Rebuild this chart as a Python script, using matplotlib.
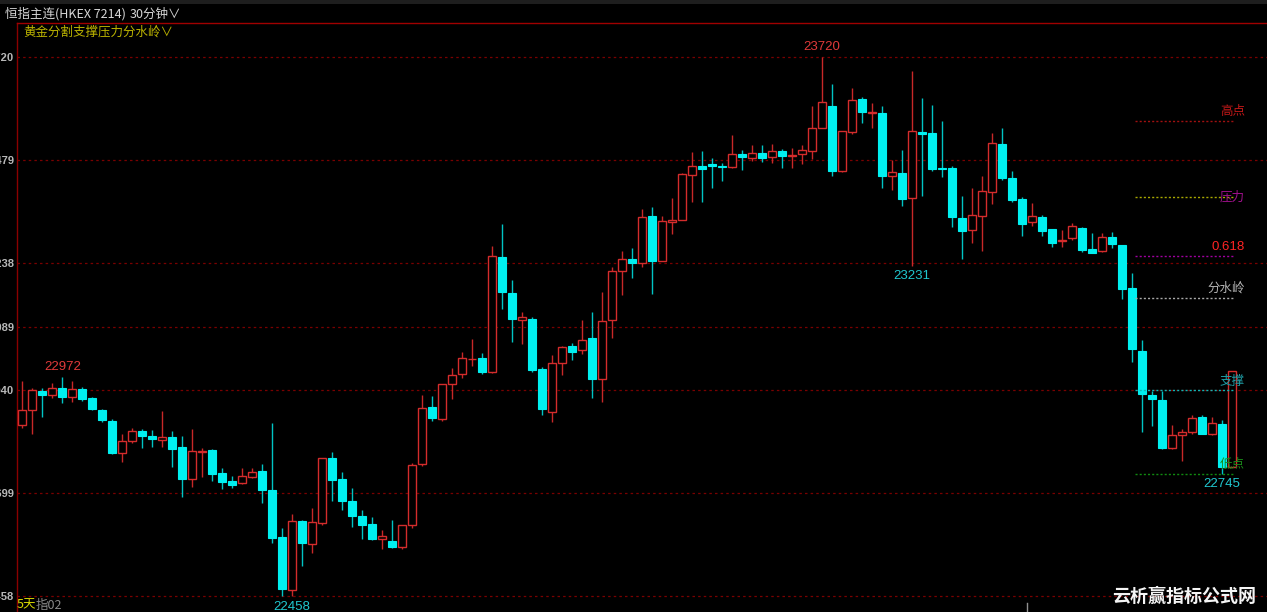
import matplotlib
matplotlib.use("Agg")
import matplotlib.pyplot as plt
import matplotlib.transforms as mtransforms
import numpy as np

plt.rcParams['font.family'] = ['Noto Sans CJK SC', 'DejaVu Sans']

# ---- data (30-minute candles, HSI futures) ----
opens = [22860, 22894, 22938, 22928, 22945, 22925, 22944, 22922, 22894, 22868,
         22794, 22821, 22844, 22833, 22825, 22830, 22807, 22732, 22796, 22800,
         22746, 22729, 22724, 22737, 22751, 22708, 22596, 22474, 22634, 22580,
         22629, 22781, 22733, 22680, 22645, 22627, 22593, 22588, 22573, 22626,
         22767, 22902, 22872, 22955, 22978, 23013, 23016, 22984, 23253, 23168,
         23104, 23108, 22989, 22889, 23005, 23044, 23034, 23062, 22966, 23104,
         23219, 23247, 23237, 23349, 23243, 23335, 23338, 23445, 23464, 23469,
         23466, 23463, 23493, 23483, 23495, 23485, 23501, 23488, 23493, 23499,
         23555, 23606, 23454, 23544, 23622, 23588, 23590, 23442, 23448, 23390,
         23545, 23542, 23461, 23460, 23343, 23315, 23348, 23403, 23517, 23436,
         23387, 23335, 23346, 23317, 23289, 23296, 23319, 23270, 23265, 23300,
         23280, 23179, 23032, 22928, 22917, 22804, 22835, 22843, 22878, 22837,
         22862, 22761]
highs = [22962, 22945, 22945, 22958, 22972, 22962, 22947, 22924, 22896, 22874,
         22838, 22851, 22849, 22847, 22892, 22845, 22833, 22849, 22804, 22802,
         22758, 22740, 22758, 22758, 22767, 22863, 22617, 22650, 22637, 22664,
         22782, 22796, 22750, 22711, 22659, 22644, 22613, 22636, 22626, 22771,
         22929, 22927, 22956, 22992, 23029, 23060, 23027, 23278, 23329, 23198,
         23123, 23111, 22994, 23023, 23044, 23052, 23105, 23123, 23170, 23229,
         23266, 23274, 23364, 23368, 23349, 23390, 23448, 23498, 23500, 23484,
         23472, 23537, 23502, 23514, 23514, 23517, 23504, 23506, 23513, 23605,
         23720, 23658, 23548, 23648, 23626, 23613, 23605, 23479, 23502, 23687,
         23623, 23608, 23570, 23465, 23394, 23414, 23442, 23543, 23553, 23453,
         23393, 23379, 23350, 23317, 23315, 23332, 23322, 23309, 23308, 23310,
         23280, 23214, 23058, 22939, 22938, 22860, 22849, 22882, 22882, 22878,
         22871, 22985]
lows = [22853, 22839, 22878, 22921, 22911, 22912, 22916, 22894, 22867, 22792,
        22772, 22817, 22806, 22808, 22808, 22760, 22690, 22714, 22738, 22729,
        22710, 22711, 22722, 22734, 22677, 22583, 22460, 22458, 22530, 22559,
        22624, 22682, 22659, 22620, 22593, 22589, 22568, 22572, 22569, 22619,
        22764, 22869, 22868, 22920, 22970, 22998, 22979, 22981, 23130, 23054,
        23048, 22984, 22882, 22865, 22977, 23010, 23026, 22923, 22913, 23062,
        23163, 23202, 23229, 23165, 23243, 23305, 23338, 23380, 23380, 23414,
        23431, 23461, 23456, 23477, 23475, 23472, 23460, 23460, 23470, 23481,
        23555, 23442, 23450, 23540, 23565, 23555, 23414, 23410, 23372, 23231,
        23395, 23454, 23440, 23323, 23247, 23285, 23266, 23376, 23432, 23381,
        23302, 23325, 23302, 23276, 23276, 23293, 23263, 23262, 23263, 23272,
        23154, 23006, 22843, 22857, 22803, 22803, 22775, 22839, 22838, 22836,
        22745, 22761]
closes = [22894, 22940, 22928, 22945, 22925, 22944, 22919, 22896, 22871, 22793,
          22821, 22846, 22833, 22827, 22832, 22803, 22733, 22797, 22799, 22744,
          22726, 22719, 22740, 22750, 22708, 22594, 22476, 22635, 22582, 22631,
          22781, 22730, 22680, 22645, 22626, 22592, 22599, 22573, 22626, 22765,
          22898, 22875, 22955, 22975, 23016, 23014, 22984, 23254, 23170, 23108,
          23111, 22987, 22897, 23003, 23041, 23030, 23059, 22967, 23103, 23219,
          23247, 23237, 23345, 23243, 23336, 23338, 23446, 23465, 23459, 23465,
          23463, 23493, 23485, 23495, 23483, 23499, 23488, 23491, 23502, 23553,
          23614, 23454, 23548, 23619, 23591, 23591, 23442, 23452, 23388, 23548,
          23541, 23459, 23458, 23346, 23314, 23350, 23406, 23518, 23436, 23386,
          23329, 23347, 23314, 23284, 23293, 23325, 23268, 23262, 23300, 23282,
          23177, 23036, 22931, 22919, 22806, 22835, 22842, 22875, 22839, 22863,
          22761, 22985]

y_ticks = [23720, 23479, 23238, 23089, 22940, 22699, 22458]
y_tick_labels = ["23720", "23479", "23238", "23089", "22940", "22699", "22458"]

# golden-section levels (label, value)
level_names = ["高点", "压力", "0.618", "分水岭", "支撑", "低点"]
level_values = [23570, 23393, 23255, 23157, 22940, 22745]

# extreme-price annotations (candle index)
peak_idx = [80, 4]
trough_idx = [89, 27, 120]

title_main = "恒指主连(HKEX 7214)"
title_period = "30分钟"
indicator_name = "黄金分割支撑压力分水岭"
watermark = "云析赢指标公式网"

# ---- figure ----
W, H = 1267, 612
fig = plt.figure(figsize=(W / 100, H / 100), dpi=100, facecolor="black")
ax = fig.add_axes([17 / W, 0, 1 - 17 / W, (H - 23) / H], facecolor="black")

n = len(opens)
x = np.arange(n)
o = np.array(opens, float); c = np.array(closes, float)
hi = np.array(highs, float); lo = np.array(lows, float)
up = c >= o
dn = ~up

UP_EDGE = "#d42c2c"
UP_WICK = "#c82828"
DN_BODY = "#00f0f0"
DN_WICK = "#00c4c4"

ax.vlines(x[up], lo[up], hi[up], color=UP_WICK, lw=1.0, zorder=2)
ax.vlines(x[dn], lo[dn], hi[dn], color=DN_WICK, lw=1.0, zorder=2)
ax.bar(x[up], c[up] - o[up], bottom=o[up], width=0.8, facecolor="black",
       edgecolor=UP_EDGE, linewidth=1.0, zorder=3)
ax.bar(x[dn], o[dn] - c[dn], bottom=c[dn], width=0.8, facecolor=DN_BODY,
       edgecolor=DN_BODY, linewidth=0.8, zorder=3)

# axis scaling: pixel rows 23 .. 612 of the picture
ax.set_xlim(-0.53, 124.5)
ax.set_ylim(22421.4, 23799.6)

ax.set_yticks(y_ticks)
ax.set_yticklabels(y_tick_labels)
ax.tick_params(axis="y", length=0, pad=2, labelcolor="#b8b8b8", labelsize=8)
for t in ax.get_yticklabels():
    t.set_fontfamily(["Liberation Sans", "DejaVu Sans"])
    t.set_fontweight("bold")
ax.set_xticks([])
for yv in y_ticks:
    ax.axhline(yv, color="#7a0000", lw=0.9, ls=(0, (2, 2.5)), zorder=1)

for s in ["right", "bottom"]:
    ax.spines[s].set_visible(False)
ax.spines["left"].set_color("#8a0000")
ax.spines["top"].set_color("#a00000")
ax.spines["left"].set_linewidth(1.0)
ax.spines["top"].set_linewidth(1.0)

num_font = ["Liberation Sans", "DejaVu Sans"]
for i in peak_idx:
    ax.annotate(f"{int(hi[i])}", (x[i], hi[i]), xytext=(0, 3), textcoords="offset points",
                ha="center", va="bottom", color="#e03a3a", fontsize=9.5, family=num_font)
for i in trough_idx:
    ax.annotate(f"{int(lo[i])}", (x[i], lo[i]), xytext=(0, -3), textcoords="offset points",
                ha="center", va="top", color="#20c8d0", fontsize=9.5, family=num_font)

# golden-section level lines on the right
line_colors = ["#a01010", "#a8a800", "#a000a0", "#a8a8a8", "#10b4b4", "#108a10"]
text_colors = ["#c01818", "#a0108c", "#ff2424", "#b4b4b4", "#1fa0a8", "#1a8a1a"]
text_va = ["bottom", "center", "bottom", "bottom", "bottom", "bottom"]
for name, val, lc, tc, va in zip(level_names, level_values, line_colors, text_colors, text_va):
    ax.hlines(val, n - 10.7, n - 0.9, colors=lc, lw=1.0, ls=(0, (1.5, 1.5)), zorder=4)
    off = 2 if va == "bottom" else 0
    fs = 9.5 if name == "0.618" else 9
    fam = num_font if name == "0.618" else ["Noto Sans CJK SC", "DejaVu Sans"]
    ax.annotate(name, (n + 0.3, val), xytext=(0, off), textcoords="offset points",
                ha="right", va=va, color=tc, fontsize=fs, family=fam, zorder=5)

# small tick at bottom
trans = mtransforms.blended_transform_factory(ax.transData, ax.transAxes)
ax.plot([100.5, 100.5], [0, 0.016], color="#909090", lw=1, transform=trans, clip_on=False)

# ---- header / texts ----
def px(xp, yp):
    return xp / W, 1 - yp / H

fig.patches.append(plt.Rectangle((0, 1 - 4 / H), 1, 4 / H, transform=fig.transFigure,
                                 facecolor="#1e1e1e", edgecolor="none"))
fig.text(*px(5, 14), title_main, color="#d8d8d8", fontsize=9, va="center", ha="left")
fig.text(*px(130, 14), title_period + "∨", color="#d8d8d8", fontsize=9, va="center", ha="left",
         family=["Noto Sans CJK SC", "DejaVu Sans"])
fig.text(*px(23, 32), indicator_name + "∨", color="#bcb400", fontsize=9, va="center", ha="left",
         family=["Noto Sans CJK SC", "DejaVu Sans"])
fig.text(*px(17, 605), "5天", color="#d8d800", fontsize=9, va="center", ha="left")
fig.text(*px(36, 605), "指02", color="#8a8a8a", fontsize=9, va="center", ha="left")
fig.text(*px(1256, 596), watermark, color="#f4f4f4", fontsize=13, fontweight="bold",
         va="center", ha="right")

fig.savefig("out.png", dpi=100, facecolor="black")
